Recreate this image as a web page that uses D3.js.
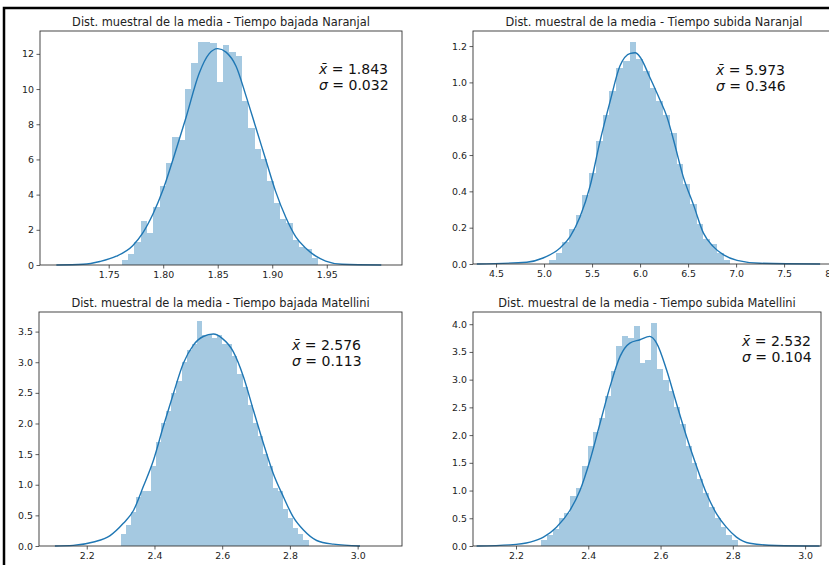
<!DOCTYPE html>
<html>
<head>
<meta charset="utf-8">
<script src="https://cdnjs.cloudflare.com/ajax/libs/d3/7.8.5/d3.min.js"></script>
<style>
  body { margin: 0; background: #fff; }
  svg { display: block; font-family: "DejaVu Sans", sans-serif; }
</style>
</head>
<body>
<main></main>
<script>
// Chart data
const titles = [
  "Dist. muestral de la media - Tiempo bajada Naranjal",
  "Dist. muestral de la media - Tiempo subida Naranjal",
  "Dist. muestral de la media - Tiempo bajada Matellini",
  "Dist. muestral de la media - Tiempo subida Matellini",
];
const means = ["1.843", "5.973", "2.576", "2.532"];
const sigmas = ["0.032", "0.346", "0.113", "0.104"];

// histogram bins (start, width) and densities
const binStarts = [1.762, 5.05, 2.3, 2.27];
const binWidths = [0.0058, 0.07, 0.015, 0.016];
const dens1 = [0.3, 0.6, 1.3, 2.5, 1.8, 3.3, 4.5, 5.8, 7.3, 7.1, 10.0, 11.5, 12.7, 12.7, 12.6, 10.4,
  12.5, 12.1, 11.9, 9.3, 7.8, 6.6, 6.0, 4.8, 3.5, 2.6, 2.4, 1.4, 1.0, 0.9, 0.4];
const dens2 = [0.02, 0.06, 0.12, 0.19, 0.27, 0.38, 0.5, 0.68, 0.82, 0.95, 1.08, 1.12, 1.22, 1.13,
  1.06, 0.97, 0.9, 0.82, 0.72, 0.55, 0.44, 0.33, 0.22, 0.14, 0.11, 0.06, 0.02];
const dens3 = [0.2, 0.35, 0.55, 0.8, 0.9, 0.9, 1.3, 1.7, 2.0, 2.2, 2.5, 2.7, 3.0, 3.2, 3.3, 3.67,
  3.45, 3.45, 3.4, 3.45, 3.3, 3.3, 3.1, 2.8, 2.6, 2.3, 2.0, 1.8, 1.5, 1.3, 0.95, 0.9, 0.6, 0.45,
  0.3, 0.2, 0.1];
const dens4 = [0.1, 0.2, 0.3, 0.5, 0.6, 0.9, 1.05, 1.45, 1.8, 2.05, 2.3, 2.7, 3.15, 3.6, 3.78, 3.75,
  3.97, 3.3, 3.35, 4.03, 3.2, 3.0, 2.8, 2.5, 2.2, 1.8, 1.5, 1.2, 0.95, 0.7, 0.5, 0.35, 0.2, 0.1];

// KDE curves
const kdeX1 = [1.702, 1.7265, 1.742, 1.757, 1.772, 1.781, 1.7906, 1.80, 1.81, 1.821, 1.833, 1.842,
  1.85, 1.8576, 1.8668, 1.876, 1.885, 1.894, 1.903, 1.9125, 1.9216, 1.9308, 1.94, 1.949, 1.964, 2.0];
const kdeY1 = [0, 0.04, 0.2, 0.5, 1.1, 1.8, 2.9, 4.3, 6.2, 8.4, 10.9, 12.0, 12.3, 12.1, 11.3, 9.6,
  7.8, 6.0, 4.2, 2.7, 1.6, 0.95, 0.5, 0.22, 0.04, 0];
const kdeX2 = [4.3, 4.82, 4.99, 5.17, 5.27, 5.375, 5.48, 5.58, 5.69, 5.79, 5.9, 5.95, 6.0, 6.1, 6.21,
  6.28, 6.35, 6.45, 6.56, 6.66, 6.76, 6.87, 7.01, 7.25, 7.875];
const kdeY2 = [0, 0.01, 0.033, 0.09, 0.15, 0.26, 0.43, 0.67, 0.9, 1.09, 1.16, 1.163, 1.14, 1.03, 0.9,
  0.81, 0.68, 0.48, 0.32, 0.17, 0.097, 0.05, 0.02, 0.004, 0];
const kdeX3 = [2.106, 2.16, 2.22, 2.269, 2.308, 2.338, 2.367, 2.397, 2.426, 2.456, 2.485, 2.515, 2.544,
  2.574, 2.6, 2.633, 2.663, 2.692, 2.722, 2.751, 2.781, 2.81, 2.84, 2.879, 2.928, 3.007];
const kdeY3 = [0, 0.01, 0.065, 0.17, 0.37, 0.58, 0.97, 1.4, 1.95, 2.49, 2.98, 3.28, 3.42, 3.46, 3.39,
  3.17, 2.76, 2.22, 1.67, 1.18, 0.8, 0.47, 0.26, 0.09, 0.03, 0];
const kdeX4 = [2.091, 2.183, 2.239, 2.276, 2.312, 2.349, 2.377, 2.405, 2.432, 2.46, 2.488, 2.515, 2.543,
  2.57, 2.589, 2.617, 2.644, 2.672, 2.7, 2.727, 2.755, 2.782, 2.81, 2.847, 2.92, 3.04];
const kdeY4 = [0, 0.02, 0.07, 0.16, 0.34, 0.64, 1.0, 1.55, 2.2, 2.87, 3.42, 3.66, 3.72, 3.78, 3.66,
  3.17, 2.57, 1.97, 1.43, 0.95, 0.58, 0.34, 0.16, 0.05, 0.01, 0];

// tick labels
const xTicks1 = [1.75, 1.8, 1.85, 1.9, 1.95];
const xTicks2 = [4.5, 5.0, 5.5, 6.0, 6.5, 7.0, 7.5, 8.0];
const xTicks3 = [2.2, 2.4, 2.6, 2.8, 3.0];
const xTicks4 = [2.2, 2.4, 2.6, 2.8, 3.0];
const yTicks1 = [0, 2, 4, 6, 8, 10, 12];
const yTicks2 = [0, 0.2, 0.4, 0.6, 0.8, 1.0, 1.2];
const yTicks3 = [0, 0.5, 1.0, 1.5, 2.0, 2.5, 3.0, 3.5];
const yTicks4 = [0, 0.5, 1.0, 1.5, 2.0, 2.5, 3.0, 3.5, 4.0];

// Axis domains
const xDomains = [[1.687, 2.019], [4.26, 8.03], [2.059, 3.131], [2.081, 3.044]];
const yDomains = [[0, 13.3], [0, 1.283], [0, 3.82], [0, 4.22]];

// Set dimensions
const w = 829;
const h = 565;

// Panel boxes (pixel layout)
const boxes = [
  { l: 40, r: 402, t: 31, b: 265, ax: 319, ay: 74, xf: ".2f", yf: "d" },
  { l: 473, r: 835, t: 31, b: 264, ax: 716, ay: 75, xf: ".1f", yf: ".1f" },
  { l: 39, r: 402, t: 312, b: 546, ax: 292, ay: 350, xf: ".1f", yf: ".1f" },
  { l: 473, r: 821, t: 312, b: 546, ax: 742, ay: 346, xf: ".1f", yf: ".1f" },
];

const panels = [
  { dens: dens1, kx: kdeX1, ky: kdeY1, xt: xTicks1, yt: yTicks1 },
  { dens: dens2, kx: kdeX2, ky: kdeY2, xt: xTicks2, yt: yTicks2 },
  { dens: dens3, kx: kdeX3, ky: kdeY3, xt: xTicks3, yt: yTicks3 },
  { dens: dens4, kx: kdeX4, ky: kdeY4, xt: xTicks4, yt: yTicks4 },
];

const svg = d3
  .select("main")
  .append("svg")
  .attr("width", w)
  .attr("height", h)
  .attr("viewBox", `0 0 ${w} ${h}`);

svg.append("rect").attr("width", w).attr("height", h).attr("fill", "#fff");

panels.forEach((p, i) => {
  const box = boxes[i];
  const xScale = d3.scaleLinear().domain(xDomains[i]).range([box.l, box.r]);
  const yScale = d3.scaleLinear().domain(yDomains[i]).range([box.b, box.t]);
  const g = svg.append("g");

  // Histogram bars
  const bins = p.dens.map((d, k) => ({
    x0: binStarts[i] + k * binWidths[i],
    x1: binStarts[i] + (k + 1) * binWidths[i],
    y: d,
  }));
  g.selectAll("rect.bar")
    .data(bins)
    .enter()
    .append("rect")
    .attr("class", "bar")
    .attr("x", (d) => xScale(d.x0))
    .attr("width", (d) => xScale(d.x1) - xScale(d.x0))
    .attr("y", (d) => yScale(d.y))
    .attr("height", (d) => yScale(0) - yScale(d.y))
    .attr("fill", "rgb(165, 201, 225)")
    .attr("shape-rendering", "crispEdges");

  // KDE line
  const line = d3
    .line()
    .x((d) => xScale(d[0]))
    .y((d) => yScale(d[1]))
    .curve(d3.curveMonotoneX);
  g.append("path")
    .datum(p.kx.map((x, k) => [x, p.ky[k]]))
    .attr("d", line)
    .attr("fill", "none")
    .attr("stroke", "#1f77b4")
    .attr("stroke-width", 1.4);

  // Axes
  const xAxis = d3.axisBottom(xScale).tickValues(p.xt).tickFormat(d3.format(box.xf)).tickSizeOuter(0).tickSize(3.5).tickPadding(2.5);
  const yAxis = d3.axisLeft(yScale).tickValues(p.yt).tickFormat(d3.format(box.yf)).tickSizeOuter(0).tickSize(3.5).tickPadding(2.5);
  g.append("g")
    .attr("transform", `translate(0, ${box.b})`)
    .call(xAxis)
    .call((a) => a.select(".domain").remove());
  g.append("g")
    .attr("transform", `translate(${box.l}, 0)`)
    .call(yAxis)
    .call((a) => a.select(".domain").remove());
  g.selectAll(".tick text")
    .attr("font-family", "DejaVu Sans")
    .attr("font-size", 9.4)
    .attr("fill", "#222");
  g.selectAll(".tick line").attr("stroke", "#333").attr("stroke-width", 0.8);

  // Frame
  g.append("rect")
    .attr("x", box.l)
    .attr("y", box.t)
    .attr("width", box.r - box.l)
    .attr("height", box.b - box.t)
    .attr("fill", "none")
    .attr("stroke", "#333")
    .attr("stroke-width", 0.9);

  // Title
  g.append("text")
    .attr("x", (box.l + Math.min(box.r, 835)) / 2)
    .attr("y", box.t - 5)
    .attr("text-anchor", "middle")
    .attr("font-size", 11.4)
    .attr("fill", "#222")
    .text(titles[i]);

  // Stats annotation
  const t1 = g.append("text").attr("x", box.ax).attr("y", box.ay).attr("font-size", 14).attr("fill", "#111");
  t1.append("tspan").attr("font-style", "italic").text("x\u0304");
  t1.append("tspan").text(" = " + means[i]);
  const t2 = g.append("text").attr("x", box.ax).attr("y", box.ay + 16).attr("font-size", 14).attr("fill", "#111");
  t2.append("tspan").attr("font-style", "italic").text("\u03c3");
  t2.append("tspan").text(" = " + sigmas[i]);
});

// Screenshot border
svg.append("path")
  .attr("d", `M4,${h} V8 H${w}`)
  .attr("fill", "none")
  .attr("stroke", "#000")
  .attr("stroke-width", 2.5);
</script>
</body>
</html>
